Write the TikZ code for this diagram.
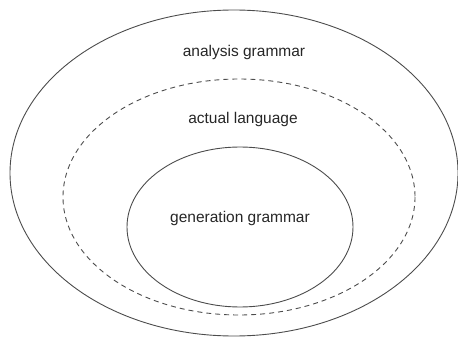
\documentclass[tikz,border=0pt]{standalone}
\usepackage{fontspec}
\setmainfont{Liberation Sans}
\usetikzlibrary{shapes.geometric}
\begin{document}
\begin{tikzpicture}[x=1pt,y=-1pt,
  ring/.style={draw=black!70, line width=0.9pt},
  dashring/.style={ring, dash pattern=on 5pt off 4pt},
  lbl/.style={font=\fontsize{15.5}{18}\selectfont, text=black!85, inner sep=0pt}]
\useasboundingbox (0,0) rectangle (458,337);
\draw[ring] (234,173) ellipse [x radius=224, y radius=163];
\draw[dashring] (239,197) ellipse [x radius=176, y radius=118];
\draw[ring] (240,227) ellipse [x radius=113, y radius=80];
\node[lbl] (analysis) at (244,52) {analysis grammar};
\node[lbl] (actual) at (243,119) {actual language};
\node[lbl] (generation) at (240,218) {generation grammar};
\end{tikzpicture}
\end{document}
